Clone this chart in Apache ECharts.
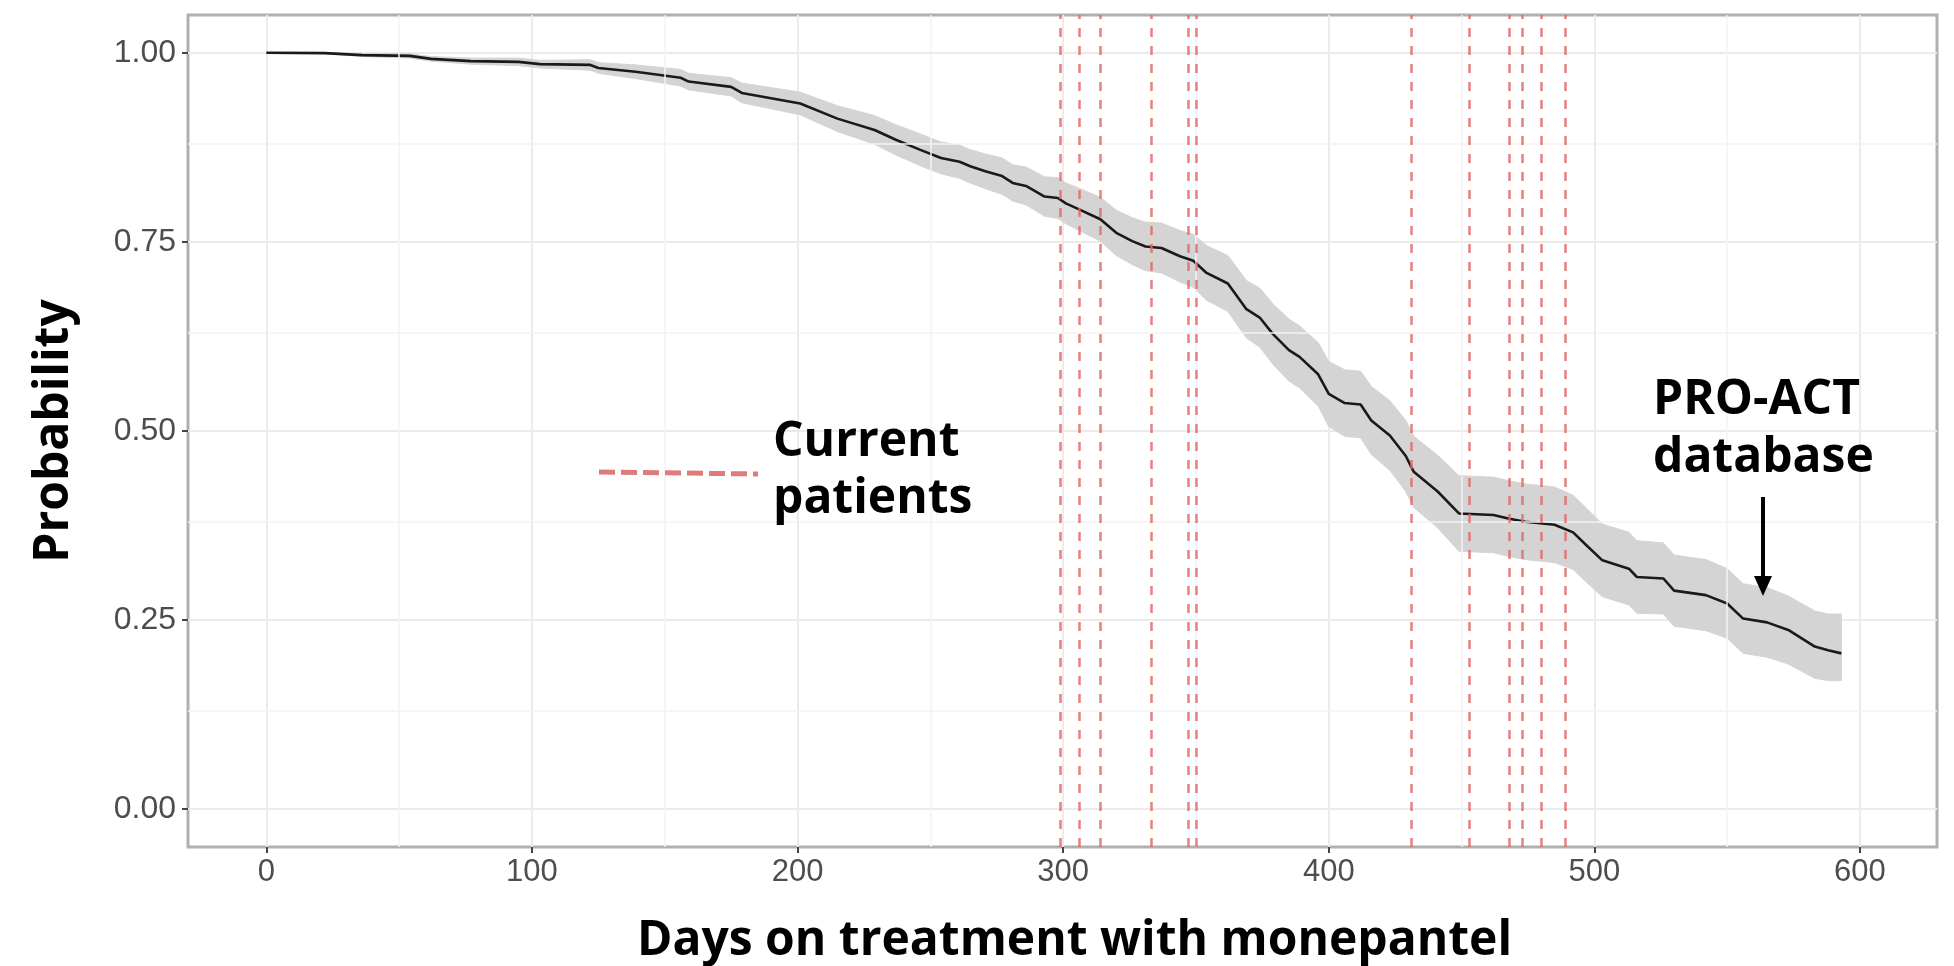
<!DOCTYPE html>
<html>
<head>
<meta charset="utf-8">
<script src="https://cdn.jsdelivr.net/npm/echarts@6/dist/echarts.min.js"></script>
<style>html,body{margin:0;padding:0;background:#fff}#chart{width:1954px;height:966px}</style>
</head>
<body>
<div id="chart"></div>
<script>
// Kaplan-Meier style estimate
const days = [0,22,36,54,62,77,95,103,122,125,139,156,159,175,179,201,215,229,237,246,254,261,265,271,277,281,286,293,298,301,306,314,320,326,331,337,344,349,354,362,369,374,379,385,389,396,400,406,412,416,423,429,432,441,449,462,468,474,485,492,497,503,513,516,526,530,542,550,556,565,573,583,588,593];
const survival = [1.000,0.9996,0.997,0.996,0.992,0.989,0.988,0.985,0.984,0.980,0.975,0.967,0.962,0.955,0.947,0.933,0.913,0.898,0.885,0.872,0.861,0.856,0.850,0.843,0.837,0.828,0.824,0.810,0.808,0.801,0.793,0.780,0.762,0.751,0.744,0.742,0.731,0.725,0.709,0.695,0.661,0.650,0.628,0.607,0.598,0.575,0.549,0.537,0.535,0.514,0.494,0.467,0.446,0.420,0.391,0.389,0.384,0.380,0.376,0.366,0.349,0.329,0.318,0.307,0.305,0.289,0.283,0.272,0.252,0.247,0.237,0.215,0.210,0.206];
const lower = [1.000,0.999,0.995,0.993,0.989,0.985,0.983,0.980,0.977,0.973,0.966,0.956,0.951,0.943,0.934,0.918,0.896,0.879,0.865,0.851,0.840,0.834,0.828,0.820,0.813,0.804,0.799,0.784,0.781,0.774,0.765,0.751,0.732,0.720,0.712,0.709,0.697,0.690,0.673,0.658,0.623,0.611,0.588,0.566,0.557,0.533,0.506,0.493,0.491,0.469,0.448,0.420,0.399,0.372,0.341,0.339,0.334,0.330,0.326,0.317,0.300,0.281,0.270,0.259,0.258,0.242,0.236,0.226,0.206,0.201,0.192,0.173,0.170,0.170];
const upper = [1.000,1.000,0.999,0.999,0.995,0.993,0.993,0.990,0.991,0.987,0.984,0.978,0.973,0.967,0.960,0.948,0.930,0.917,0.905,0.893,0.882,0.878,0.872,0.866,0.861,0.852,0.849,0.836,0.835,0.828,0.821,0.809,0.792,0.782,0.776,0.775,0.765,0.760,0.745,0.732,0.699,0.689,0.668,0.648,0.639,0.617,0.592,0.581,0.579,0.559,0.540,0.514,0.493,0.468,0.441,0.439,0.434,0.430,0.426,0.415,0.398,0.377,0.366,0.355,0.352,0.336,0.330,0.318,0.298,0.293,0.282,0.262,0.258,0.258];
// Days on treatment of the current patients (vertical dashed lines)
const patientDays = [299,306,314,333,347,350,431,453,468,473,480,489];
// Axis ticks
const xTicks = [0,100,200,300,400,500,600];
const yTicks = [0,0.25,0.5,0.75,1];
const xMinor = [50,150,250,350,450,550];
const yMinor = [0.125,0.375,0.625,0.875];

const chart = echarts.init(document.getElementById('chart'), null, {renderer:'canvas'});
const pair = (arr) => days.map((d,i) => [d, arr[i]]);
const bandData = days.map((d,i) => [d, lower[i], upper[i]]);

const labelFont = 'Liberation Sans';
const titleFont = 'Open Sans';

function renderBand(params, api) {
  if (params.dataIndex !== 0) return null;
  const top = [], bottom = [];
  for (let i = 0; i < bandData.length; i++) {
    top.push(api.coord([bandData[i][0], bandData[i][2]]));
    bottom.push(api.coord([bandData[i][0], bandData[i][1]]));
  }
  return {
    type: 'polygon',
    shape: {points: top.concat(bottom.reverse())},
    style: {fill: '#d4d4d4', stroke: '#d4d4d4', lineWidth: 1}
  };
}

chart.setOption({
  animation: false,
  backgroundColor: '#ffffff',
  grid: {left: 188, right: 17, top: 15, bottom: 119, containLabel: false, outerBoundsMode: 'none',
    show: true, borderColor: '#b0b0b0', borderWidth: 3, backgroundColor: '#ffffff'},
  xAxis: {
    type: 'value', min: -29.5, max: 629,
    name: 'Days on treatment with monepantel', nameLocation: 'middle', nameGap: 70,
    nameTextStyle: {fontFamily: titleFont, fontWeight: 'bold', fontSize: 48, color: '#000', padding: [0, 0, 0, 24]},
    axisLine: {show: false, onZero: false},
    axisTick: {show: true, length: 6, lineStyle: {color: '#444', width: 2}, customValues: xTicks},
    axisLabel: {customValues: xTicks, fontFamily: labelFont, fontSize: 31, color: '#4d4d4d', margin: 10},
    splitLine: {show: true, lineStyle: {color: '#ebebeb', width: 2}}
  },
  yAxis: {
    type: 'value', min: -0.05, max: 1.05,
    name: 'Probability', nameLocation: 'middle', nameGap: 110,
    nameTextStyle: {fontFamily: titleFont, fontWeight: 'bold', fontSize: 48, color: '#000'},
    axisLine: {show: false, onZero: false},
    axisTick: {show: true, length: 6, lineStyle: {color: '#444', width: 2}, customValues: yTicks},
    axisLabel: {customValues: yTicks, formatter: v => v.toFixed(2), fontFamily: labelFont, fontSize: 32, color: '#4d4d4d', margin: 12},
    splitLine: {show: true, lineStyle: {color: '#ebebeb', width: 2}}
  },
  series: [
    {
      name: 'minor grid', type: 'line', data: [], z: 1, silent: true,
      markLine: {silent: true, symbol: ['none','none'], label: {show: false},
        lineStyle: {color: '#f3f3f3', width: 1.5, type: 'solid'},
        data: xMinor.map(v => ({xAxis: v})).concat(yMinor.map(v => ({yAxis: v})))}
    },
    {
      name: 'confidence band', type: 'custom', data: bandData, z: 2, silent: true,
      encode: {x: 0, y: [1, 2]},
      renderItem: renderBand
    },
    {
      name: 'PRO-ACT database', type: 'line', data: pair(survival), symbol: 'none', z: 3,
      lineStyle: {color: '#1a1a1a', width: 2.6}
    },
    {
      name: 'Current patients', type: 'line', data: [], z: 5, silent: true,
      markLine: {silent: true, symbol: ['none','none'], label: {show: false},
        lineStyle: {color: '#e06a6a', width: 2.5, type: [9, 9], opacity: 0.85},
        data: patientDays.map(v => ({xAxis: v}))}
    }
  ],
  graphic: [
    {type: 'line', shape: {x1: 599, y1: 472, x2: 758, y2: 474}, style: {stroke: '#e07b7b', lineWidth: 5, lineDash: [16, 6]}, z: 10},
    {type: 'text', left: 773, top: 414, style: {text: 'Current\npatients', font: 'bold 48px "Open Sans"', fill: '#000', lineHeight: 57}, z: 10},
    {type: 'text', left: 1653, top: 371, style: {text: 'PRO-ACT\ndatabase', font: 'bold 48px "Open Sans"', fill: '#000', lineHeight: 58}, z: 10},
    {type: 'line', shape: {x1: 1763, y1: 497, x2: 1763, y2: 580}, style: {stroke: '#000', lineWidth: 4}, z: 10},
    {type: 'polygon', shape: {points: [[1754, 576], [1772, 576], [1763, 596]]}, style: {fill: '#000'}, z: 10}
  ]
});
</script>
</body>
</html>
